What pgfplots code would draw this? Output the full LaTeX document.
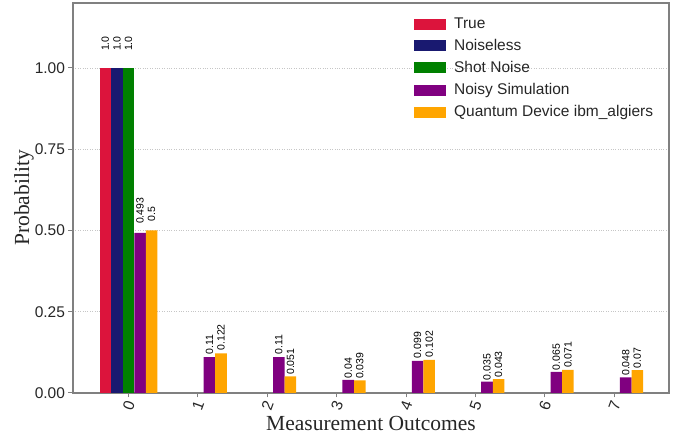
\documentclass[border=0pt]{standalone}
\usepackage{pgfplots}
\pgfplotsset{compat=1.18}
\usepackage{fontspec}
\setmainfont{Liberation Sans}
\newfontfamily\seriffont{Liberation Serif}
\definecolor{cTrue}{HTML}{DC143C}
\definecolor{cNoiseless}{HTML}{191970}
\definecolor{cShot}{HTML}{008000}
\definecolor{cNoisy}{HTML}{800080}
\definecolor{cDevice}{HTML}{FFA500}
\definecolor{spine}{HTML}{808080}
\definecolor{txt}{HTML}{262626}
\begin{document}
\begin{tikzpicture}
\begin{axis}[
  scale only axis, width=596pt, height=390pt,
  xmin=-0.8, xmax=7.79, ymin=0, ymax=1.2,
  ybar, bar width=0.1667,
  xtick={0,1,2,3,4,5,6,7},
  ytick={0,0.25,0.5,0.75,1},
  /pgf/number format/assume math mode=true,
  yticklabel style={/pgf/number format/fixed, /pgf/number format/fixed zerofill, /pgf/number format/precision=2, font=\fontsize{15.5}{18}\selectfont, text=txt},
  xticklabel style={rotate=70, anchor=east, font=\fontsize{15.5}{18}\selectfont, text=txt, xshift=0.5pt, yshift=-3pt},
  tick pos=left,
  tick align=outside,
  major tick length=4.5pt,
  tick style={spine, line width=1pt},
  axis line style={spine, line width=1.2pt},
  ymajorgrids,
  major grid style={dotted, gray!45, line width=0.7pt},
  xlabel={Measurement Outcomes},
  ylabel={Probability},
  every axis x label/.style={at={(axis description cs:0.5,-0.077)}, anchor=center, font=\seriffont\fontsize{21.5}{24}\selectfont, text=txt},
  every axis y label/.style={at={(axis description cs:-0.0822,0.5)}, rotate=90, anchor=center, font=\seriffont\fontsize{21.5}{24}\selectfont, text=txt},
  nodes near coords,
  point meta=explicit symbolic,
  visualization depends on={16.25*y \as \lblshift},
  every node near coord/.append style={yshift=\lblshift pt, rotate=90, anchor=west, inner sep=0.6pt, font=\fontsize{10.5}{12}\selectfont, text=black},
  legend style={at={(0.567,0.972)}, anchor=north west, draw=none, fill=none,
    font=\fontsize{15.5}{18}\selectfont, text=txt, row sep=5.3pt, column sep=0pt},
  legend cell align=left,
  legend image code/.code={\fill[#1, draw=none] (0pt,-5.5pt) rectangle (32pt,5.5pt); \path (38pt,0pt);},
]
\addplot[fill=cTrue, draw=none, bar shift=-0.3333] coordinates {(0,1.0) [1.0]};
\addplot[fill=cNoiseless, draw=none, bar shift=-0.1667] coordinates {(0,1.0) [1.0]};
\addplot[fill=cShot, draw=none, bar shift=0] coordinates {(0,1.0) [1.0]};
\addplot[fill=cNoisy, draw=none, bar shift=0.1667] coordinates {
  (0,0.493) [0.493] (1,0.11) [0.11] (2,0.11) [0.11] (3,0.04) [0.04]
  (4,0.099) [0.099] (5,0.035) [0.035] (6,0.065) [0.065] (7,0.048) [0.048]};
\addplot[fill=cDevice, draw=none, bar shift=0.3333] coordinates {
  (0,0.5) [0.5] (1,0.122) [0.122] (2,0.051) [0.051] (3,0.039) [0.039]
  (4,0.102) [0.102] (5,0.043) [0.043] (6,0.071) [0.071] (7,0.07) [0.07]};
\legend{True, Noiseless, Shot Noise, Noisy Simulation, Quantum Device ibm\_algiers}
\path (rel axis cs:0,0) ++(-73pt,-46pt) coordinate (bl);
\path (rel axis cs:1,1) ++(17pt,3pt) coordinate (tr);
\end{axis}
\path (bl) rectangle (tr);
\end{tikzpicture}
\end{document}
